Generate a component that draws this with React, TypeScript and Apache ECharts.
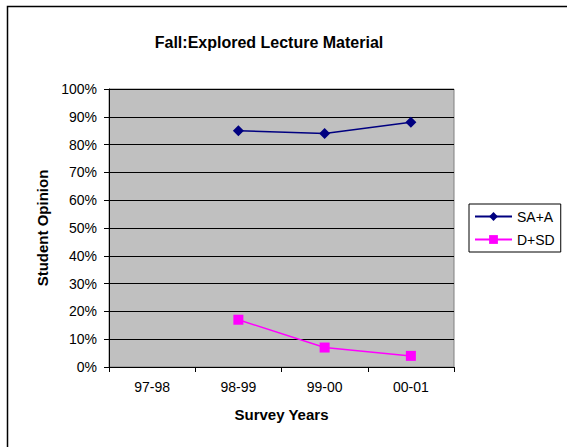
import React, { useEffect, useRef } from "react";
import * as echarts from "echarts";

const categories = ["97-98", "98-99", "99-00", "00-01"];
const saA = [null, 85, 84, 88];
const dSd = [null, 17, 7, 4];
const yTicks = [0, 10, 20, 30, 40, 50, 60, 70, 80, 90, 100];

export default function App() {
  const ref = useRef<HTMLDivElement>(null);
  useEffect(() => {
    const chart = echarts.init(ref.current!, null, { renderer: "svg" });
    const font = "Arial, 'Liberation Sans', sans-serif";
    chart.setOption({
      animation: false,
      backgroundColor: "#ffffff",
      textStyle: { fontFamily: font },
      title: {
        text: "Fall:Explored Lecture Material",
        left: 264,
        textAlign: "center",
        top: 29,
        textStyle: { fontSize: 16, fontWeight: "bold", color: "#000", fontFamily: font },
      },
      graphic: [
        {
          type: "rect",
          shape: { x: 7.5, y: 6.5, width: 600, height: 500 },
          style: { fill: "none", stroke: "#000", lineWidth: 1.5 },
          silent: true,
          z: 100,
        },
      ],
      grid: {
        left: 109,
        top: 89,
        width: 345,
        height: 278,
        show: true,
        backgroundColor: "#C0C0C0",
        borderColor: "#808080",
        borderWidth: 1,
      },
      legend: {
        orient: "vertical",
        left: 469,
        top: 204,
        padding: [4, 6, 4, 5],
        borderColor: "#000",
        borderWidth: 1,
        backgroundColor: "#fff",
        itemWidth: 37,
        itemHeight: 11,
        itemGap: 6,
        textStyle: { fontSize: 14, color: "#000", fontFamily: font, lineHeight: 17 },
        data: ["SA+A", "D+SD"],
      },
      xAxis: {
        type: "category",
        data: categories,
        boundaryGap: true,
        name: "Survey Years",
        nameLocation: "middle",
        nameGap: 40,
        nameTextStyle: { fontSize: 15, fontWeight: "bold", color: "#000", fontFamily: font },
        axisLine: { lineStyle: { color: "#000", width: 1 } },
        axisTick: { show: true, length: 5, inside: false, lineStyle: { color: "#000" } },
        axisLabel: { fontSize: 14, color: "#000", margin: 13, fontFamily: font },
        splitLine: { show: false },
      },
      yAxis: {
        type: "value",
        min: 0,
        max: 100,
        interval: 10,
        name: "Student Opinion",
        nameLocation: "middle",
        nameGap: 59,
        nameRotate: 90,
        nameTextStyle: { fontSize: 15, fontWeight: "bold", color: "#000", fontFamily: font },
        axisLine: { show: true, lineStyle: { color: "#000", width: 1 } },
        axisTick: { show: true, length: 5, lineStyle: { color: "#000" } },
        axisLabel: {
          fontSize: 14,
          color: "#000",
          margin: 12,
          fontFamily: font,
          formatter: (v: number) => (yTicks.includes(v) ? v + "%" : ""),
        },
        splitLine: { show: true, lineStyle: { color: "#000", width: 1 } },
      },
      series: [
        {
          name: "SA+A",
          type: "line",
          data: saA,
          symbol: "diamond",
          symbolSize: 11,
          color: "#000080",
          lineStyle: { color: "#000080", width: 1.5 },
          itemStyle: { color: "#000080" },
        },
        {
          name: "D+SD",
          type: "line",
          data: dSd,
          symbol: "rect",
          symbolSize: 10,
          color: "#FF00FF",
          lineStyle: { color: "#FF00FF", width: 1.5 },
          itemStyle: { color: "#FF00FF" },
        },
      ],
    });
    return () => chart.dispose();
  }, []);
  return (
    <div
      ref={ref}
      style={{ position: "fixed", left: 0, top: 0, width: 567, height: 447 }}
    />
  );
}
